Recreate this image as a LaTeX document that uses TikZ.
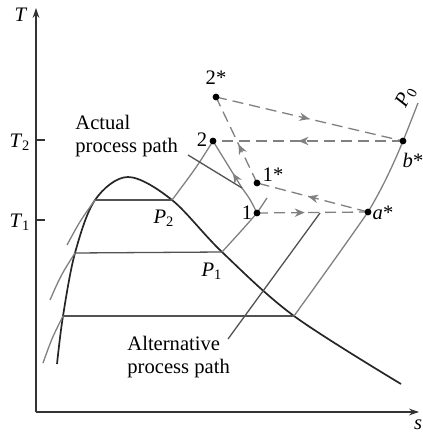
\documentclass[tikz,border=0pt]{standalone}
\usepackage{fontspec}
\setmainfont{Liberation Serif}
\usetikzlibrary{arrows.meta,decorations.markings}

\begin{document}
\begin{tikzpicture}[x=0.5pt,y=-0.5pt,
    ax/.style={draw=black!80,line width=0.8pt},
    dome/.style={draw=black!85,line width=0.85pt},
    iso/.style={draw=black!50,line width=0.65pt},
    tie/.style={draw=black!68,line width=0.65pt},
    dsh/.style={draw=black!50,line width=0.65pt,dash pattern=on 5.5pt off 3pt},
    dot/.style={circle,fill=black,inner sep=0pt,minimum size=3.4pt},
    lbl/.style={font=\fontsize{10.3}{11.5}\selectfont,inner sep=1pt},
    note/.style={lbl,align=left,anchor=north west},
    midarr/.style={postaction={decorate},decoration={markings,
      mark=at position #1 with {\arrow{Stealth[length=5pt,width=4.2pt,inset=1.6pt]}}}}
  ]
  \useasboundingbox (0,0) rectangle (422,432);
  %% axes
  \coordinate (O) at (36,412);
  \coordinate (Ttop) at (36,8);
  \coordinate (send) at (419,412);
  \draw[ax,-{Stealth[length=5pt,width=3.4pt]}] (O) -- (Ttop);
  \draw[ax,-{Stealth[length=5pt,width=3.4pt]}] (O) -- (send);
  \node[lbl] (Tlab) at (21,15) {\textit{T}};
  \node[lbl] (slab) at (418,425) {\textit{s}};
  \foreach \n/\y/\t in {T2/140/2,T1/220/1} {
    \coordinate (\n) at (36,\y);
    \draw[ax] (\n) -- ++(9,0);
    \node[lbl] at (20,\y+2) {\textit{T}\textsubscript{\t}};
  }
  %% saturation dome, liquid and vapour ends of the tie lines
  \coordinate (l2) at (95,200);
  \coordinate (l1) at (75,253);
  \coordinate (l0) at (63,316);
  \coordinate (v2) at (172,200);
  \coordinate (v1) at (222,252);
  \coordinate (v0) at (294,316);
  \draw[dome] plot[smooth,tension=0.55] coordinates
    {(57,364) (l0) (l1) (l2) (128,177) (v2) (v1) (v0) (401,384)};
  \foreach \a/\b in {l2/v2,l1/v1,l0/v0}
    \draw[tie] (\a) -- (\b);
  %% isobars on the liquid side
  \coordinate (c2) at (67,245);
  \coordinate (c1) at (50,300);
  \coordinate (c0) at (43,363);
  \draw[iso] (l2) .. controls (80,221) .. (c2);
  \draw[iso] (l1) .. controls (61,275) .. (c1);
  \draw[iso] (l0) .. controls (52,338) .. (c0);
  %% states
  \coordinate (s1)  at (257,213);
  \coordinate (s2)  at (213,141);
  \coordinate (s1s) at (257,183);
  \coordinate (s2s) at (216,97);
  \coordinate (sa)  at (368,212);
  \coordinate (sb)  at (403,141);
  %% isobars P2, P1, P0
  \coordinate (e1) at (267,198);
  \coordinate (e0) at (418,103);
  \draw[iso] (v2) .. controls (196,168) .. (s2);
  \draw[iso] (v1) .. controls (243,229) .. (s1) -- (e1);
  \draw[iso] (v0) .. controls (320,280) and (350,238) .. (sa)
    .. controls (382,189) and (394,163) .. (sb) .. controls (411,121) .. (e0);
  \node[lbl,rotate=62] (P0lab) at (406,97) {\textit{P}\textsubscript{0}};
  %% actual process path
  \coordinate (bend) at (242,188);
  \draw[iso,midarr=0.55] (s1) .. controls (250,199) .. (bend) -- (s2);
  \coordinate (lead1) at (188,155);
  \draw[tie] (lead1) -- (bend);
  \node[note] (actual) at (73,113) {Actual\\process path};
  %% alternative process path
  \coordinate (lead2) at (228,339);
  \coordinate (alt) at (320,213);
  \draw[tie] (lead2) -- (alt);
  \node[note] (altern) at (125,334) {Alternative\\process path};
  %% reversible legs
  \draw[dsh,midarr=0.5]  (s2s) -- (sb);
  \draw[dsh,midarr=0.55] (sb) -- (s2);
  \draw[dsh,midarr=0.45] (s1s) -- (s2s);
  \draw[dsh,midarr=0.54] (sa) -- (s1s);
  \draw[dsh,midarr=0.43] (s1) -- (sa);
  \foreach \s in {s1,s2,s1s,s2s,sa,sb}
    \node[dot] at (\s) {};
  %% labels
  \node[lbl] (lab2s) at (216,78)  {2*};
  \node[lbl] (lab2)  at (202,140) {2};
  \node[lbl] (lab1s) at (273,175) {1*};
  \node[lbl] (lab1)  at (247,213) {1};
  \node[lbl] (laba)  at (383,213) {\textit{a}*};
  \node[lbl] (labb)  at (413,160) {\textit{b}*};
  \node[lbl] (labP2) at (164,218) {\textit{P}\textsubscript{2}};
  \node[lbl] (labP1) at (212,271) {\textit{P}\textsubscript{1}};
\end{tikzpicture}
\end{document}
